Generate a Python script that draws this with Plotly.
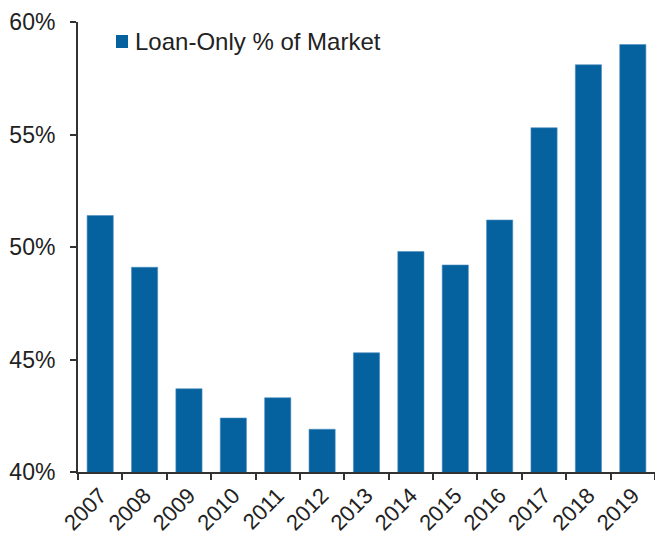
import plotly.graph_objects as go

years = ["2007", "2008", "2009", "2010", "2011", "2012", "2013",
         "2014", "2015", "2016", "2017", "2018", "2019"]
loan_only_pct = [51.4, 49.1, 43.7, 42.4, 43.3, 41.9, 45.3,
                 49.8, 49.2, 51.2, 55.3, 58.1, 59.0]
series_name = "Loan-Only % of Market"
bar_color = "#05629F"

fig = go.Figure()
fig.add_trace(go.Bar(
    x=years, y=loan_only_pct, name=series_name,
    marker=dict(color=bar_color, line=dict(color="#4f8fc0", width=0.6)),
    showlegend=False,
))

# manual legend (square + text) to match the tight spacing
fig.add_shape(type="rect", xref="paper", yref="paper",
              x0=0.0659, x1=0.0867, y0=0.9422, y1=0.9711,
              fillcolor=bar_color, line=dict(width=0))
fig.add_annotation(xref="paper", yref="paper", x=0.0945, y=0.9567,
                   xanchor="left", yanchor="middle", showarrow=False,
                   text=series_name, font=dict(size=24, color="#222222"))

fig.update_layout(
    width=655, height=539,
    margin=dict(l=78, r=0, t=22, b=67),
    plot_bgcolor="white", paper_bgcolor="white",
    font=dict(family="Liberation Sans, Arial, sans-serif", size=23, color="#222222"),
    bargap=0.41,
    xaxis=dict(
        type="category", showline=True, linecolor="#333333", linewidth=2,
        ticks="outside", ticklen=6, tickcolor="#333333", tickwidth=2,
        tickson="boundaries", tickangle=-45, tickfont=dict(size=22),
        showgrid=False, zeroline=False,
    ),
    yaxis=dict(
        range=[40, 60], dtick=5, ticksuffix="%",
        showline=True, linecolor="#333333", linewidth=2,
        ticks="outside", ticklen=6, tickcolor="#333333", tickwidth=2,
        ticklabelstandoff=10,
        showgrid=False, zeroline=False, tickfont=dict(size=23),
    ),
)

fig.write_html("out.html")
